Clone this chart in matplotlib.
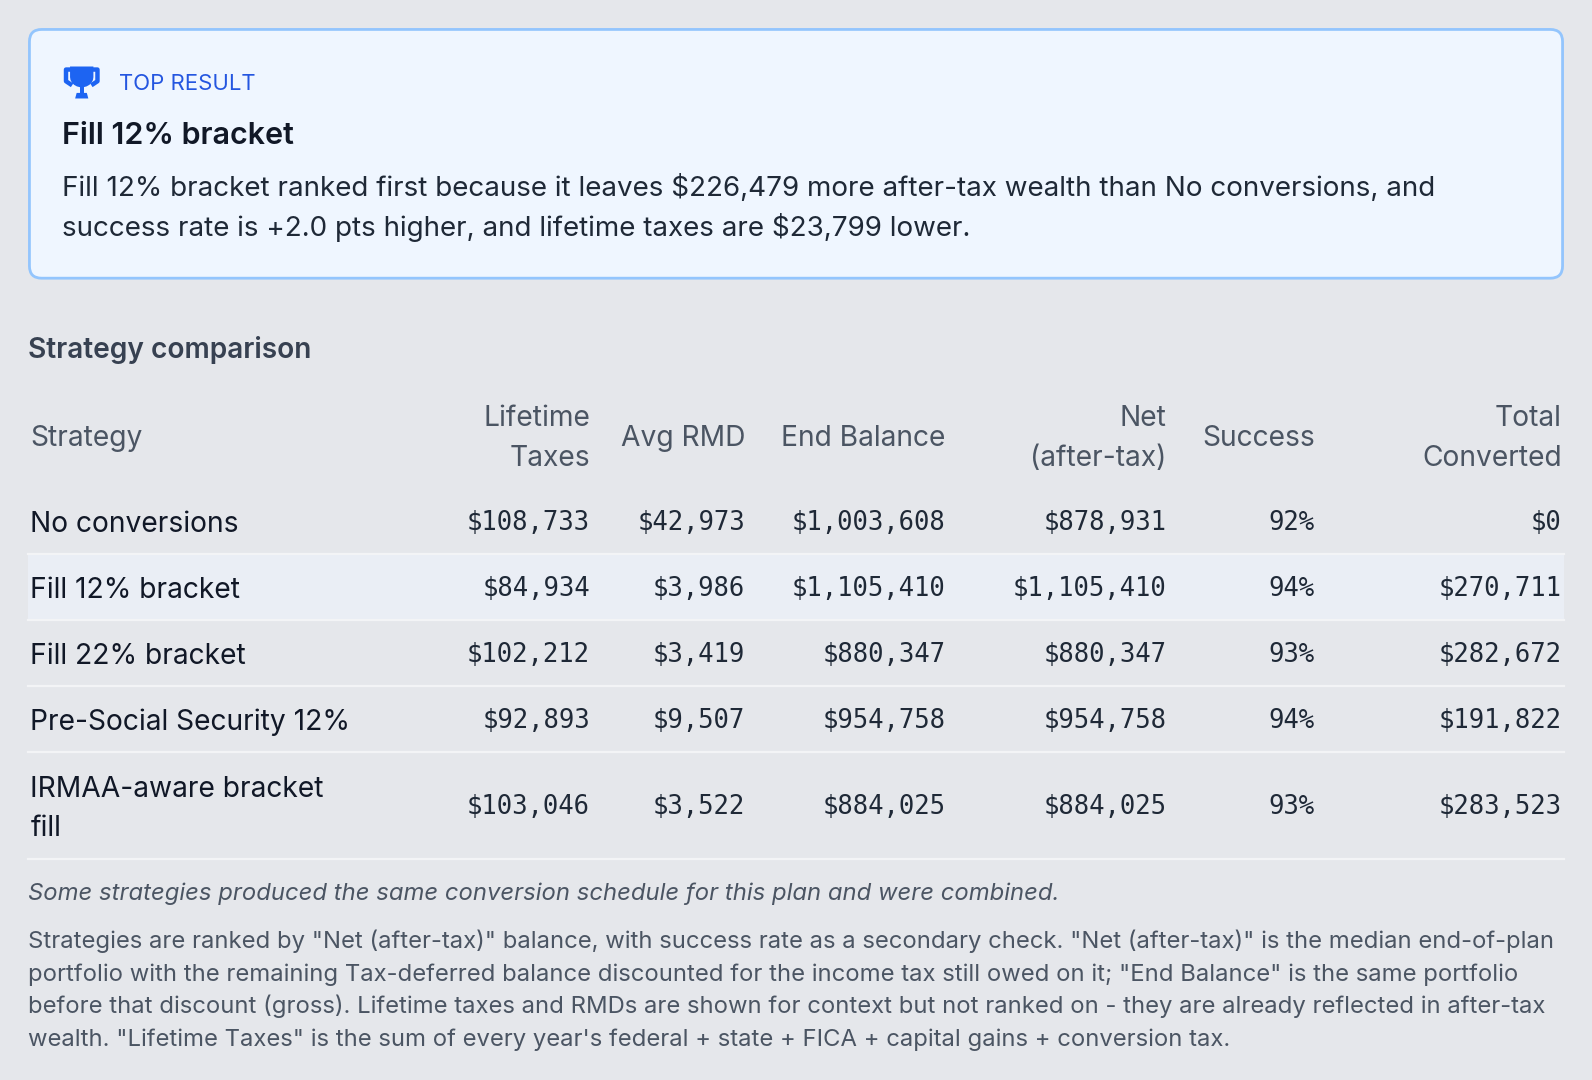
import matplotlib
matplotlib.use("Agg")
import matplotlib.pyplot as plt
from matplotlib.patches import FancyBboxPatch, Rectangle, Polygon
import numpy as np

# ---------------- data ----------------
badge_label = "TOP RESULT"
top_title = "Fill 12% bracket"
top_lines = [
    "Fill 12% bracket ranked first because it leaves $226,479 more after-tax wealth than No conversions, and",
    "success rate is +2.0 pts higher, and lifetime taxes are $23,799 lower.",
]
section_title = "Strategy comparison"
headers = ["Strategy", "Lifetime\nTaxes", "Avg RMD", "End Balance", "Net\n(after-tax)", "Success", "Total\nConverted"]
strategies = ["No conversions", "Fill 12% bracket", "Fill 22% bracket",
              "Pre-Social Security 12%", "IRMAA-aware bracket\nfill"]
lifetime_taxes = [108733, 84934, 102212, 92893, 103046]
avg_rmd = [42973, 3986, 3419, 9507, 3522]
end_balance = [1003608, 1105410, 880347, 954758, 884025]
net_after_tax = [878931, 1105410, 880347, 954758, 884025]
success_pct = [92, 94, 93, 94, 93]
total_converted = [0, 270711, 282672, 191822, 283523]
highlight_index = 1
note_text = "Some strategies produced the same conversion schedule for this plan and were combined."
para_lines = [
    'Strategies are ranked by "Net (after-tax)" balance, with success rate as a secondary check. "Net (after-tax)" is the median end-of-plan',
    'portfolio with the remaining Tax-deferred balance discounted for the income tax still owed on it; "End Balance" is the same portfolio',
    'before that discount (gross). Lifetime taxes and RMDs are shown for context but not ranked on - they are already reflected in after-tax',
    'wealth. "Lifetime Taxes" is the sum of every year\'s federal + state + FICA + capital gains + conversion tax.',
]

# ---------------- layout ----------------
W = 1568.0
H = 1080.0 * 1568.0 / 1592.0
S = 1592.0 / 1568.0


def fs(px):
    return px * S * 0.72


BG = "#e5e7eb"
fig = plt.figure(figsize=(15.92, 10.8), dpi=100, facecolor=BG)
ax = fig.add_axes([0, 0, 1, 1])
ax.set_xlim(0, W)
ax.set_ylim(H, 0)
ax.axis("off")
ax.set_facecolor(BG)

SANS = ["Inter", "DejaVu Sans"]
MONO = ["DejaVu Sans Mono"]

# top result card
card = FancyBboxPatch((29, 29), 1510, 245, boxstyle="round,pad=0,rounding_size=12",
                      facecolor="#eff6ff", edgecolor="#93c5fd", linewidth=2.0)
ax.add_patch(card)

# trophy icon
BLUE = "#1d64f2"
cx = 80.5
cup = [(69, 65.5), (92, 65.5), (92, 76)]
for t in np.linspace(0, np.pi, 12):
    cup.append((cx + 11.5 * np.cos(t), 76 + 10 * np.sin(t)))
cup.append((69, 76))
ax.add_patch(Polygon(cup, closed=True, facecolor=BLUE, edgecolor="none"))
ax.plot([70, 65, 65, 71], [68.5, 68.5, 80, 84], color=BLUE, lw=3.2, solid_joinstyle="round",
        solid_capstyle="butt")
ax.plot([91, 96, 96, 90], [68.5, 68.5, 80, 84], color=BLUE, lw=3.2, solid_joinstyle="round",
        solid_capstyle="butt")
ax.add_patch(Rectangle((78.5, 85), 4, 7, facecolor=BLUE, edgecolor="none"))
ax.add_patch(Polygon([(74, 97), (87, 97), (85.5, 91.5), (75.5, 91.5)], closed=True,
                     facecolor=BLUE, edgecolor="none"))

ax.text(117, 89, badge_label, fontsize=fs(21.8), color="#2456e0", family=SANS, va="baseline")
ax.text(61, 142, top_title, fontsize=fs(30), color="#111827", family=SANS,
        fontweight="semibold", va="baseline")
for i, line in enumerate(top_lines):
    ax.text(61, 193 + 39 * i, line, fontsize=fs(27.4), color="#1f2937", family=SANS, va="baseline")

# section heading
ax.text(28, 353, section_title, fontsize=fs(27.7), color="#374151", family=SANS,
        fontweight="semibold", va="baseline")

# table
col_right = [None, 581, 734, 931, 1149, 1295, 1538]
HEAD_COLOR = "#4b5563"
HFS = 27.8
for j, h in enumerate(headers):
    lines = h.split("\n")
    if len(lines) == 1:
        ys = [439]
    else:
        ys = [420, 459]
    for ln, yb in zip(lines, ys):
        if j == 0:
            ax.text(30, yb, ln, fontsize=fs(HFS), color=HEAD_COLOR, family=SANS, va="baseline")
        else:
            ax.text(col_right[j], yb, ln, fontsize=fs(HFS), color=HEAD_COLOR, family=SANS,
                    va="baseline", ha="right")

row_tops = [482, 547, 612, 677, 742]
row_bottoms = [546, 611, 676, 741, 846]

ax.add_patch(Rectangle((28, row_tops[highlight_index]), 1512,
                       row_bottoms[highlight_index] - row_tops[highlight_index],
                       facecolor="#eaeef5", edgecolor="none", zorder=0.5))
for yb in row_bottoms:
    ax.plot([28, 1540], [yb, yb], color="#f3f4f6", lw=1.6, zorder=1)


def money(v):
    return "${:,}".format(v)


for i, name in enumerate(strategies):
    mid = (row_tops[i] + row_bottoms[i]) / 2.0
    nlines = name.split("\n")
    if len(nlines) == 1:
        nys = [mid + 10]
    else:
        nys = [mid - 9, mid + 29]
    for ln, yb in zip(nlines, nys):
        ax.text(30, yb, ln, fontsize=fs(HFS), color="#111827", family=SANS, va="baseline")
    vals = [money(lifetime_taxes[i]), money(avg_rmd[i]), money(end_balance[i]),
            money(net_after_tax[i]), "{}%".format(success_pct[i]), money(total_converted[i])]
    for j, v in enumerate(vals):
        ax.text(col_right[j + 1], mid + 8, v, fontsize=fs(25.3), color="#1f2937", family=MONO,
                va="baseline", ha="right")

# notes
ax.text(28, 886, note_text, fontsize=fs(23.5), color="#4b5563", family=SANS, style="italic",
        va="baseline")
for i, line in enumerate(para_lines):
    ax.text(28, 934 + 32 * i, line, fontsize=fs(23.5), color="#4b5563", family=SANS, va="baseline")

fig.savefig("out.png", dpi=100, facecolor=BG)
